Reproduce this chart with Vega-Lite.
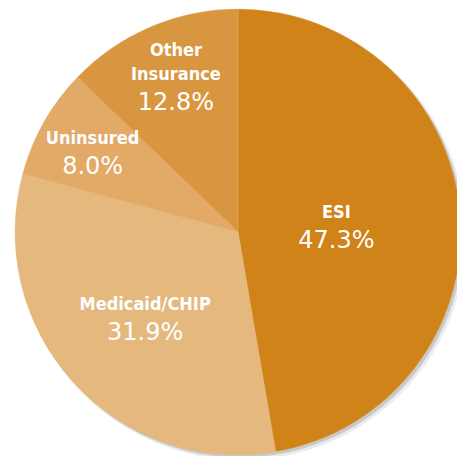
{
  "$schema": "https://vega.github.io/schema/vega-lite/v6.json",
  "width": 438,
  "height": 448,
  "autosize": {"type": "none"},
  "padding": {"left": 19, "top": 8, "right": 0, "bottom": 0},
  "background": "white",
  "config": {"view": {"stroke": null}},
  "datasets": {
    "slices": [
      {"category": "ESI", "line1": "", "line2": "ESI", "label": "47.3%", "value": 47.3, "order": 1},
      {"category": "Medicaid/CHIP", "line1": "", "line2": "Medicaid/CHIP", "label": "31.9%", "value": 31.9, "order": 2},
      {"category": "Uninsured", "line1": "", "line2": "Uninsured", "label": "8.0%", "value": 8.0, "order": 3},
      {"category": "Other Insurance", "line1": "Other", "line2": "Insurance", "label": "12.8%", "value": 12.8, "order": 4}
    ]
  },
  "data": {"name": "slices"},
  "layer": [
    {
      "transform": [{"aggregate": [{"op": "sum", "field": "value", "as": "total"}]}],
      "mark": {"type": "arc", "outerRadius": 224, "xOffset": 4, "yOffset": 4, "color": "#000000", "opacity": 0.08},
      "encoding": {"theta": {"field": "total", "type": "quantitative"}}
    },
    {
      "transform": [{"aggregate": [{"op": "sum", "field": "value", "as": "total"}]}],
      "mark": {"type": "arc", "outerRadius": 223, "xOffset": 2.5, "yOffset": 2.5, "color": "#000000", "opacity": 0.14},
      "encoding": {"theta": {"field": "total", "type": "quantitative"}}
    },
    {
      "mark": {"type": "arc", "outerRadius": 223, "stroke": "#e9b66f", "strokeWidth": 0.6, "strokeOpacity": 0.6},
      "encoding": {
        "theta": {"field": "value", "type": "quantitative", "stack": true},
        "order": {"field": "order", "type": "quantitative"},
        "color": {
          "field": "category",
          "type": "nominal",
          "scale": {
            "domain": ["ESI", "Medicaid/CHIP", "Uninsured", "Other Insurance"],
            "range": ["#CF8319", "#E5B87E", "#E2A967", "#D99641"]
          },
          "legend": null
        }
      }
    },
    {
      "mark": {"type": "text", "color": "white", "font": "DejaVu Sans Condensed", "fontWeight": "bold", "fontSize": 18, "align": "center", "baseline": "alphabetic", "dy": -30},
      "encoding": {
        "theta": {"field": "value", "type": "quantitative", "stack": true},
        "order": {"field": "order", "type": "quantitative"},
        "radius": {"field": "value", "type": "quantitative", "scale": {"type": "linear", "domain": [0, 50], "range": [181, 94], "zero": false}},
        "text": {"field": "line1", "type": "nominal"}
      }
    },
    {
      "mark": {"type": "text", "color": "white", "font": "DejaVu Sans Condensed", "fontWeight": "bold", "fontSize": 18, "align": "center", "baseline": "alphabetic", "dy": -6},
      "encoding": {
        "theta": {"field": "value", "type": "quantitative", "stack": true},
        "order": {"field": "order", "type": "quantitative"},
        "radius": {"field": "value", "type": "quantitative", "scale": {"type": "linear", "domain": [0, 50], "range": [181, 94], "zero": false}},
        "text": {"field": "line2", "type": "nominal"}
      }
    },
    {
      "mark": {"type": "text", "color": "white", "font": "DejaVu Sans", "fontWeight": "normal", "fontSize": 24, "align": "center", "baseline": "alphabetic", "dy": 24},
      "encoding": {
        "theta": {"field": "value", "type": "quantitative", "stack": true},
        "order": {"field": "order", "type": "quantitative"},
        "radius": {"field": "value", "type": "quantitative", "scale": {"type": "linear", "domain": [0, 50], "range": [181, 94], "zero": false}},
        "text": {"field": "label", "type": "nominal"}
      }
    }
  ]
}
